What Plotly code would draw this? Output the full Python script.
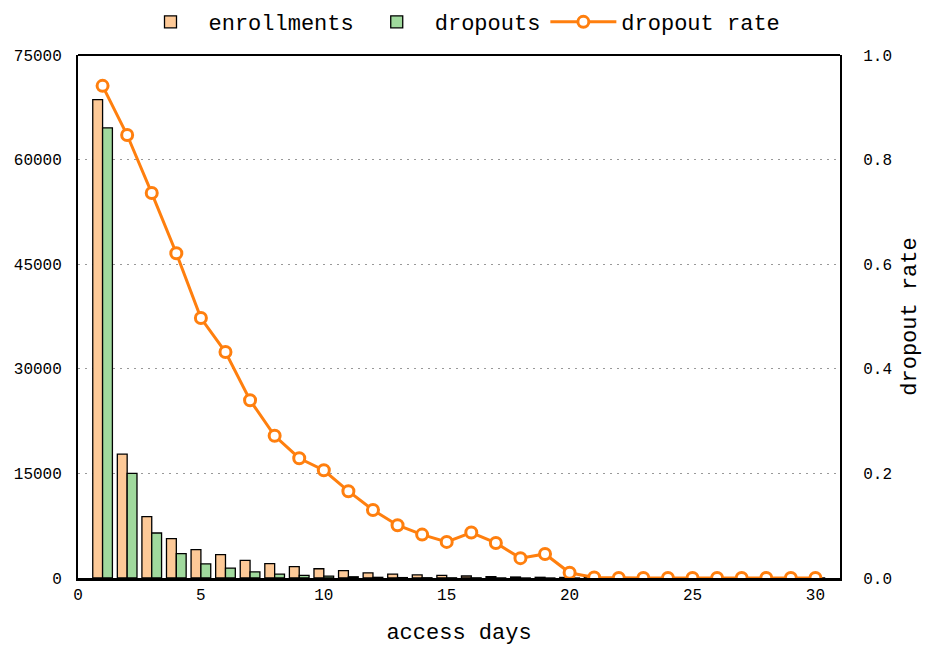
import plotly.graph_objects as go

days = list(range(1, 31))
enrollments = [68600, 17750, 8790, 5640, 4060, 3340, 2540, 2050, 1620, 1330,
               1050, 740, 570, 440, 370, 290, 200, 140, 100, 80,
               50, 40, 30, 25, 20, 15, 10, 8, 5, 3]
dropouts = [64560, 14990, 6450, 3500, 2020, 1430, 870, 550, 370, 280,
            175, 95, 57, 36, 26, 25, 13, 5, 5, 1,
            0, 0, 0, 0, 0, 0, 0, 0, 0, 0]
dropout_rate = [0.941, 0.847, 0.736, 0.621, 0.497, 0.432, 0.340, 0.272, 0.229, 0.206,
                0.166, 0.130, 0.101, 0.083, 0.069, 0.087, 0.067, 0.038, 0.046, 0.010,
                0.001, 0, 0, 0, 0, 0, 0, 0, 0, 0]
left_ticks = [0, 15000, 30000, 45000, 60000, 75000]
left_labels = ["0", "15000", "30000", "45000", "60000", "75000"]
right_ticks = [0.0, 0.2, 0.4, 0.6, 0.8, 1.0]
right_labels = ["0.0", "0.2", "0.4", "0.6", "0.8", "1.0"]
x_ticks = [0, 5, 10, 15, 20, 25, 30]

FONT = "Liberation Mono"
ORANGE = "#ff7f0e"

fig = go.Figure()
fig.add_trace(go.Bar(x=days, y=enrollments, name="enrollments",
                     marker=dict(color="#fdc997", line=dict(color="black", width=1.3))))
fig.add_trace(go.Bar(x=days, y=dropouts, name="dropouts",
                     marker=dict(color="#a0d99d", line=dict(color="black", width=1.3))))
fig.add_trace(go.Scatter(x=days, y=dropout_rate, name="dropout rate", yaxis="y2",
                         mode="lines+markers",
                         line=dict(color=ORANGE, width=3),
                         marker=dict(symbol="circle", size=11, color="white",
                                     line=dict(color=ORANGE, width=3))))

fig.update_layout(
    width=930, height=647,
    margin=dict(l=78, r=90, t=55, b=69, autoexpand=False),
    paper_bgcolor="white", plot_bgcolor="white",
    font=dict(family=FONT, size=16, color="black"),
    barmode="group", bargap=0.2, bargroupgap=0,
    showlegend=True,
    legend=dict(orientation="h", x=0.5, xanchor="center", y=1.063, yanchor="middle",
                font=dict(size=22, family=FONT), traceorder="normal", itemwidth=66),
    xaxis=dict(range=[0, 31], tickvals=x_ticks, showgrid=False, zeroline=False,
               showline=True, linecolor="black", linewidth=3, mirror=False,
               ticks="", title=dict(text="access days", font=dict(size=22), standoff=20),
               tickfont=dict(size=16)),
    yaxis=dict(range=[0, 75000], tickvals=left_ticks, ticktext=left_labels, showgrid=True,
               gridcolor="#999999", griddash="2px,5px", gridwidth=1.2, zeroline=False,
               showline=True, linecolor="black", linewidth=2, mirror=True,
               ticks="", tickfont=dict(size=16), ticklabelstandoff=11),
    yaxis2=dict(range=[0, 1.0], tickvals=right_ticks, ticktext=right_labels,
                overlaying="y", side="right", showgrid=False, zeroline=False,
                showline=True, linecolor="black", linewidth=2, ticks="",
                tickfont=dict(size=16), ticklabelstandoff=18,
                title=dict(text="dropout rate", font=dict(size=22), standoff=10)),
    shapes=[dict(type="line", xref="paper", yref="paper", x0=0, x1=1, y0=1, y1=1,
                 line=dict(color="black", width=2))],
)

fig.write_html("out.html", config={"displayModeBar": False},
               post_script="document.body.style.margin='0';")
